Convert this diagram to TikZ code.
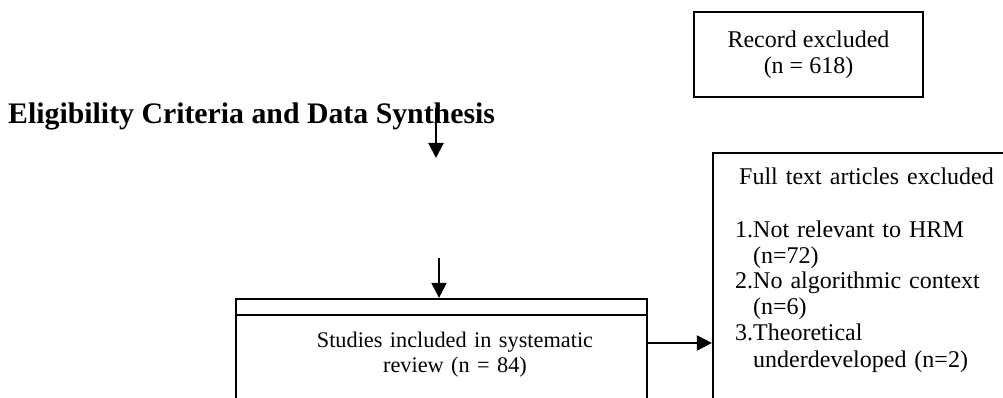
\documentclass[tikz,border=0pt]{standalone}
\usepackage{fontspec}
\setmainfont{Liberation Serif}
\usetikzlibrary{arrows.meta}
\begin{document}
\begin{tikzpicture}[x=1pt,y=-1pt,
  box/.style={draw, line width=2.2pt, inner sep=0pt},
  arr/.style={line width=2pt, -{Triangle[width=15pt,length=15pt]}},
  body/.style={font=\fontsize{24}{26}\selectfont, inner sep=0pt},
  small/.style={font=\fontsize{22.3}{25}\selectfont, inner sep=0pt},
  title/.style={font=\fontsize{29.8}{32}\selectfont\bfseries, inner sep=0pt},
]
\useasboundingbox (0,0) rectangle (1003,398);
\clip (0,0) rectangle (1003,398);
% Record excluded
\node[box, body, align=center, minimum width=229pt, minimum height=85pt] (rec) at (808.5,54.5) {Record excluded\\(n = 618)};
% Title
\node[title, anchor=base west] (title) at (8,124) {Eligibility Criteria and Data Synthesis};
% Arrow 1 (free)
\coordinate (a1s) at (436,108);
\coordinate (a1e) at (436,158);
\draw[arr] (a1s) -- (a1e);
% Studies box
\node[box, minimum width=411pt, minimum height=16pt] (strip) at (441.5,307) {};
\node[box, minimum width=411pt, minimum height=130pt] (studies) at (441.5,380) {};
\node[small, text width=300pt, align=center, anchor=base] (stxt) at (455,347) {Studies included in systematic\\review (n = 84)};
\coordinate (a2s) at (439,258);
\draw[arr] (a2s) -- (a2s |- strip.north);
% Full text box
\node[box, minimum width=340pt, minimum height=320pt] (full) at (883,313) {};
\node[body, text width=265pt, align=left, anchor=base west] (ftxt) at (735,185)
 {\hspace*{4pt}Full text articles excluded\\[26pt]
  \makebox[18pt][l]{1.}Not relevant to HRM\\
  \hspace*{18pt}(n=72)\\
  \makebox[18pt][l]{2.}No algorithmic context\\
  \hspace*{18pt}(n=6)\\
  \makebox[18pt][l]{3.}Theoretical\\
  \hspace*{18pt}underdeveloped (n=2)};
\coordinate (a3) at (0,343);
\draw[arr] (studies.east |- a3) -- (full.west |- a3);
\end{tikzpicture}
\end{document}
